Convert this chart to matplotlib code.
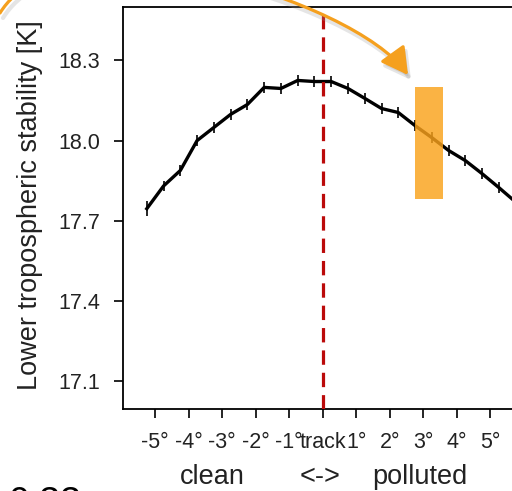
import matplotlib.pyplot as plt
from matplotlib.patches import Rectangle, FancyArrowPatch
from matplotlib.path import Path

plt.rcParams["font.family"] = ["Liberation Sans", "DejaVu Sans"]

# distance from ship track (degrees), negative = clean side
offsets = [-5.25, -4.75, -4.25, -3.75, -3.25, -2.75, -2.25, -1.75, -1.25, -0.75,
           -0.25, 0.25, 0.75, 1.25, 1.75, 2.25, 2.75, 3.25, 3.75, 4.25, 4.75, 5.25, 5.75]
lts = [17.745, 17.83, 17.888, 18.0, 18.049, 18.098, 18.135, 18.199, 18.195, 18.225,
       18.221, 18.221, 18.195, 18.158, 18.12, 18.105, 18.056, 18.011, 17.963, 17.925,
       17.876, 17.824, 17.77]
lts_err = [0.028] + [0.02] * 22

tick_pos = [-5, -4, -3, -2, -1, 0, 1, 2, 3, 4, 5]
tick_labels = ["-5°", "-4°", "-3°", "-2°", "-1°", "track", "1°", "2°", "3°", "4°", "5°"]
y_ticks = [17.1, 17.4, 17.7, 18.0, 18.3]

W, H = 512, 491


def px(x, y):
    # pixel position (y down) -> figure fraction
    return (x / W, 1 - y / H)


fig = plt.figure(figsize=(5.12, 4.91), dpi=100)
ax = fig.add_axes([123 / W, 1 - 409 / H, 401 / W, 402 / H])

ax.errorbar(offsets, lts, yerr=lts_err, color="black", lw=2.4,
            elinewidth=1.2, capsize=0, zorder=3)
ax.axvline(0, color="#bb0a0a", lw=2.3, ls=(0, (4.5, 2.5)), zorder=4)
ax.add_patch(Rectangle((2.75, 17.78), 0.83, 0.42, facecolor="#faa21b",
                       edgecolor="none", alpha=0.82, zorder=5))

ax.set_xlim(-5.96, 6.0)
ax.set_ylim(16.995, 18.5)
ax.set_xticks(tick_pos)
ax.set_xticklabels(tick_labels)
ax.set_yticks(y_ticks)
ax.set_yticklabels([f"{v:.1f}" for v in y_ticks])
ax.tick_params(direction="out", length=6.5, width=1.2, labelsize=15.5,
               labelcolor="#222222")
ax.tick_params(axis="x", pad=10)
ax.tick_params(axis="y", pad=10)
for s in ax.spines.values():
    s.set_linewidth(1.3)

fig.text(*px(30, 205), "Lower tropospheric stability [K]", rotation=90,
         ha="center", va="center", fontsize=19.5, color="#222222")
fig.text(*px(212, 484), "clean", ha="center", va="baseline", fontsize=19.5, color="#222222")
fig.text(*px(320, 484), "<->", ha="center", va="baseline", fontsize=19.5, color="#222222")
fig.text(*px(420, 484), "polluted", ha="center", va="baseline", fontsize=19.5, color="#222222")
fig.text(*px(8, 486.5), "0.33", ha="left", va="top", fontsize=27, color="black")

# curved orange arrow coming in over the top of the panel
pts = [(0, 13), (64, -91), (354, 0), (408, 75)]
codes = [Path.MOVETO, Path.CURVE4, Path.CURVE4, Path.CURVE4]
shadow = Path([px(x + 3, y + 5) for x, y in pts], codes)
fig.patches.append(FancyArrowPatch(path=shadow, transform=fig.transFigure,
                                   arrowstyle="-|>,head_length=0.9,head_width=0.5",
                                   mutation_scale=18, color="#999999", alpha=0.25,
                                   lw=3, zorder=9))
arrow = Path([px(x, y) for x, y in pts], codes)
fig.patches.append(FancyArrowPatch(path=arrow, transform=fig.transFigure,
                                   arrowstyle="-|>,head_length=0.9,head_width=0.5",
                                   mutation_scale=18, color="#f5a01e",
                                   lw=2.3, zorder=10))

fig.savefig("out.png", dpi=100)
